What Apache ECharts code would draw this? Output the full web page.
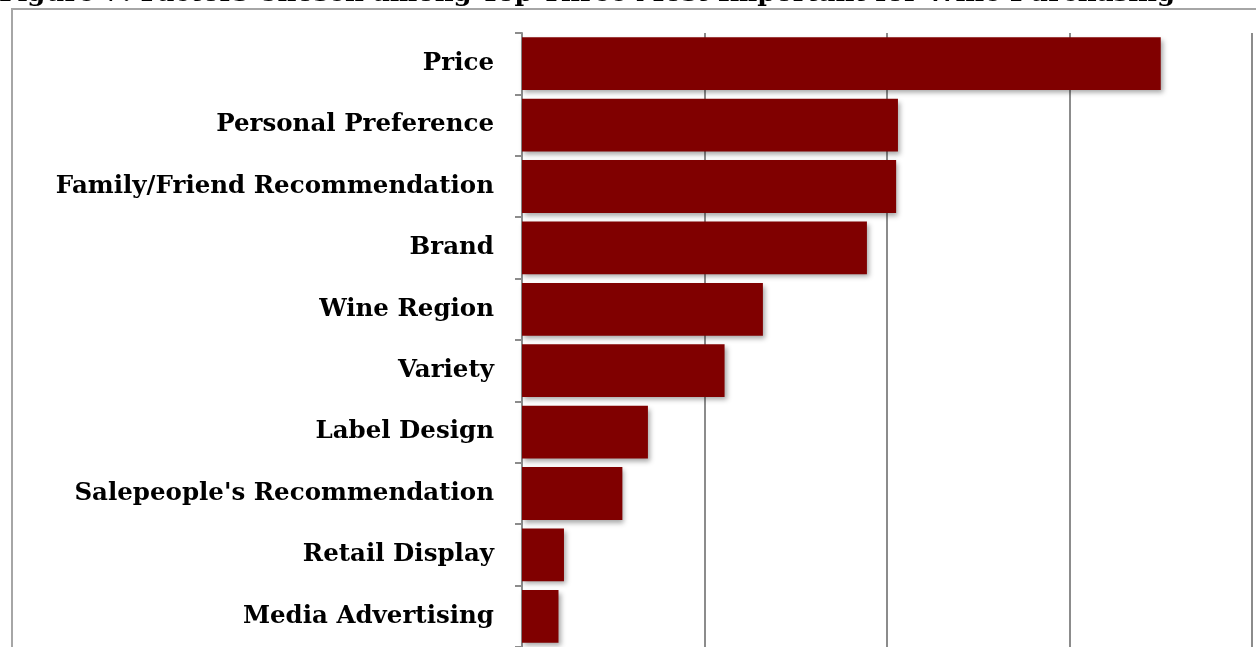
<!DOCTYPE html>
<html>
<head>
<meta charset="utf-8">
<script src="https://cdn.jsdelivr.net/npm/echarts@6/dist/echarts.min.js"></script>
<style>
html,body{margin:0;padding:0;background:#fff;}
#chart{width:1256px;height:647px;}
</style>
</head>
<body>
<div id="chart"></div>
<script>
const titleText = 'Figure 7: Factors Chosen among Top Three Most Important for Wine Purchasing';
const categories = ['Price','Personal Preference','Family/Friend Recommendation','Brand','Wine Region','Variety','Label Design',"Salepeople's Recommendation",'Retail Display','Media Advertising'];
const values = [35.0, 20.6, 20.5, 18.9, 13.2, 11.1, 6.9, 5.5, 2.3, 2.0];
const axisTicks = [0, 10, 20, 30, 40];

const chart = echarts.init(document.getElementById('chart'));
chart.setOption({
  animation: false,
  backgroundColor: '#ffffff',
  graphic: [
    {type:'rect', shape:{x:12, y:9, width:1300, height:700}, style:{fill:'none', stroke:'#a6a6a6', lineWidth:2}, z:0},
    {type:'text', x:-1, y:-6, style:{text:titleText, font:'bold 26px "DejaVu Serif"', fill:'#000', verticalAlign:'middle', align:'left'}, z:10}
  ],
  grid: {left:522, right:4, top:33, bottom:0, containLabel:false},
  xAxis: {
    type:'value', min:axisTicks[0], max:axisTicks[axisTicks.length-1], interval:10,
    axisLine:{show:false}, axisTick:{show:false}, axisLabel:{show:false},
    splitLine:{show:true, lineStyle:{color:'#8c8c8c', width:2}}
  },
  yAxis: {
    type:'category', data:categories, inverse:true,
    axisLine:{show:true, lineStyle:{color:'#8c8c8c', width:2}},
    axisTick:{show:true, length:7, lineStyle:{color:'#8c8c8c', width:2}},
    axisLabel:{margin:28, color:'#000', fontFamily:'DejaVu Serif', fontWeight:'bold', fontSize:24.5, padding:[4,0,0,0]}
  },
  series: [{
    type:'bar', data:values, barCategoryGap:'14%',
    itemStyle:{color:'#800000', shadowColor:'rgba(0,0,0,0.35)', shadowBlur:5, shadowOffsetX:2, shadowOffsetY:3}
  }]
});
</script>
</body>
</html>
